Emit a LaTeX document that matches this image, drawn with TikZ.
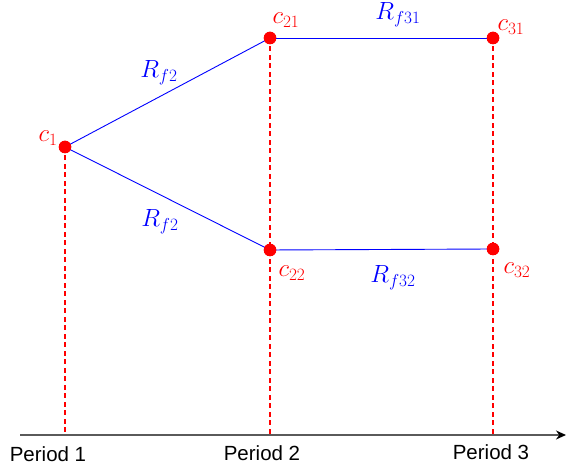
\documentclass[tikz,border=0pt]{standalone}
\usepackage{fontspec}
\setsansfont{Liberation Sans}
\usetikzlibrary{arrows.meta}
\definecolor{pured}{RGB}{255,0,0}
\definecolor{publue}{RGB}{0,0,255}
\definecolor{axisgray}{RGB}{90,90,90}
\newcommand\rdashline[3]{%
  \pgfmathtruncatemacro\ndash{floor((#2-#3)/8.5)}%
  \foreach \i in {0,...,\ndash}{%
    \pgfmathsetmacro\ya{#2-8.5*\i}%
    \pgfmathsetmacro\yb{max(\ya-5,#3)}%
    \fill[dashseg] (#1-0.6,\ya) rectangle (#1+0.6,\yb);}%
}
\begin{document}
\begin{tikzpicture}[x=1pt,y=1pt,
  dot/.style={circle,fill=pured,draw=none,inner sep=0pt,minimum size=12.5pt},
  edge/.style={draw=publue,line width=0.9pt},
  dashseg/.style={fill=pured,draw=none},
  clab/.style={text=pured,font=\fontsize{23}{24}\selectfont},
  rlab/.style={text=publue,font=\fontsize{23}{24}\selectfont},
  plab/.style={anchor=base,font=\sffamily\fontsize{20.5}{22}\selectfont}]
\useasboundingbox (0,0) rectangle (566,468);
\coordinate (a0) at (20,33);
\coordinate (a1) at (566,33);
\node[dot] (c1) at (65,321) {};
\node[dot] (c21) at (270,430) {};
\node[dot] (c31) at (493,430) {};
\node[dot] (c22) at (270,218) {};
\node[dot] (c32) at (493,219) {};
\rdashline{65}{321}{34}
\rdashline{270}{430}{34}
\rdashline{493}{430}{34}
\draw[line width=1.4pt,draw=axisgray,-{Stealth[length=10pt,width=9pt,black]}] (a0) -- (a1);
\draw[edge] (c1.center) -- (c21.center);
\draw[edge] (c1.center) -- (c22.center);
\draw[edge] (c21.center) -- (c31.center);
\draw[edge] (c22.center) -- (c32.center);
\node[dot] at (c1) {};
\node[dot] at (c21) {};
\node[dot] at (c31) {};
\node[dot] at (c22) {};
\node[dot] at (c32) {};
\node[clab] (l1) at (48,330) {$c_1$};
\node[clab] (l21) at (286,448) {$c_{21}$};
\node[clab] (l31) at (511,441) {$c_{31}$};
\node[clab] (l22) at (292,195) {$c_{22}$};
\node[clab] (l32) at (517,198) {$c_{32}$};
\node[rlab] (r1) at (159,395) {$R_{f2}$};
\node[rlab] (r2) at (160,246) {$R_{f2}$};
\node[rlab] (r3) at (398,453) {$R_{f31}$};
\node[rlab] (r4) at (393,190) {$R_{f32}$};
\node[plab] (p1) at (48,6) {Period 1};
\node[plab] (p2) at (262,7) {Period 2};
\node[plab] (p3) at (491,8) {Period 3};
\end{tikzpicture}
\end{document}
